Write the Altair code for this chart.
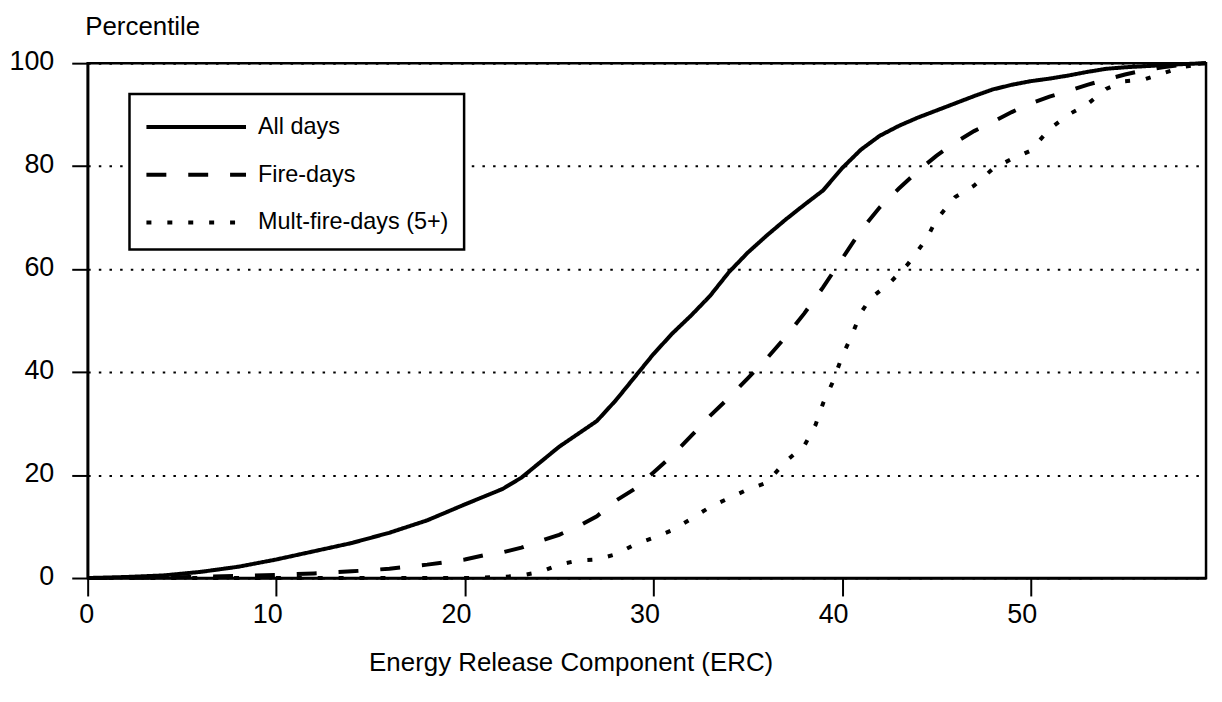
import altair as alt
import pandas as pd

# ---- data ----
series_names = ["All days", "Fire-days", "Mult-fire-days (5+)"]

erc_all = [0, 2, 4, 6, 8, 10, 12, 14, 16, 18, 20, 22, 23, 24, 25, 26, 27, 28, 29, 30,
           31, 32, 33, 34, 35, 36, 37, 38, 39, 40, 41, 42, 43, 44, 45, 46, 47, 48, 49,
           50, 51, 52, 53, 54, 55, 56, 57, 58, 59.3]
pct_all = [0, 0.2, 0.5, 1.2, 2.2, 3.6, 5.2, 6.8, 8.8, 11.2, 14.3, 17.3, 19.5, 22.5, 25.5,
           28, 30.5, 34.5, 39, 43.5, 47.5, 51, 54.8, 59.4, 63.2, 66.5, 69.6, 72.5, 75.3,
           79.6, 83.2, 85.9, 87.8, 89.4, 90.8, 92.2, 93.6, 94.9, 95.8, 96.5, 97, 97.6,
           98.3, 98.9, 99.2, 99.4, 99.6, 99.8, 100]

erc_fire = [0, 4, 8, 10, 12, 14, 16, 18, 20, 21, 22, 23, 24, 25, 26, 27, 28, 29, 30, 31,
            32, 33, 34, 35, 36, 37, 38, 39, 40, 41, 42, 43, 44, 45, 46, 47, 48, 49, 50,
            51, 52, 53, 54, 55, 56, 57, 58, 59.3]
pct_fire = [0, 0.1, 0.4, 0.6, 0.9, 1.3, 1.8, 2.6, 3.6, 4.4, 5, 5.9, 7.2, 8.4, 10, 12, 15,
            17.3, 20.5, 23.8, 27.6, 31.5, 35, 38.8, 42.6, 46.8, 51.4, 56.5, 62, 67.5, 72,
            75.6, 79, 82, 84.6, 86.8, 88.6, 90.5, 92.2, 93.5, 94.6, 95.8, 96.8, 97.8, 98.6,
            99.2, 99.7, 100]

erc_mult = [0, 5, 10, 15, 20, 22, 23, 24, 25, 26, 27, 28, 29, 30, 31, 32, 33, 34, 35, 36,
            37, 38, 38.6, 39, 39.5, 40, 40.5, 41, 41.5, 42.5, 43.5, 44.5, 45, 46, 47, 48,
            49, 50, 51, 52, 53, 54, 55, 56, 57, 58, 59.3]
pct_mult = [0, 0, 0, 0, 0, 0.2, 0.5, 1.2, 2.6, 3.4, 3.6, 4.6, 6.5, 7.8, 9.3, 11.5, 13.8,
            15.5, 17.2, 18.5, 22.6, 25.7, 29.8, 34, 38, 43, 47, 51.5, 54.3, 57.2, 61, 66,
            69.6, 74, 76.2, 79.5, 81.4, 83, 87.2, 90, 92, 95, 96.5, 96.8, 98, 99.2, 100]

x_ticks = [0, 10, 20, 30, 40, 50]
y_ticks = [0, 20, 40, 60, 80, 100]

rows = []
for name, xs, ys in zip(series_names, [erc_all, erc_fire, erc_mult],
                        [pct_all, pct_fire, pct_mult]):
    for i, (xv, yv) in enumerate(zip(xs, ys)):
        rows.append({"series": name, "erc": xv, "pct": yv, "order": i})
df = pd.DataFrame(rows)

FONT = "Liberation Sans"

chart = alt.Chart(df).mark_line(color="black", strokeWidth=4, strokeCap="butt").encode(
    x=alt.X("erc:Q",
            scale=alt.Scale(domain=[0, 59.3], nice=False, zero=False),
            axis=alt.Axis(values=x_ticks, title="Energy Release Component (ERC)",
                          grid=False, tickSize=18, labelPadding=6, labelOffset=-9,
                          titleX=485, titleY=93, titleBaseline="alphabetic",
                          titleAlign="center")),
    y=alt.Y("pct:Q",
            scale=alt.Scale(domain=[0, 100], nice=False),
            axis=alt.Axis(values=y_ticks, title="Percentile", grid=True,
                          gridDash=[2.5, 8.2], gridColor="black", gridWidth=2,
                          tickSize=16, labelPadding=18, labelOffset=-2,
                          labelFontSize=27,
                          titleAngle=0, titleX=-3, titleY=-29,
                          titleAlign="left", titleBaseline="alphabetic")),
    strokeDash=alt.StrokeDash(
        "series:N",
        scale=alt.Scale(domain=series_names, range=[[1, 0], [20, 22], [5, 16]]),
        legend=alt.Legend(
            title=None, orient="none", legendX=42, legendY=31,
            fillColor="white", strokeColor="black", padding=15,
            symbolType="M-3.125,0H3.125", symbolSize=1024, symbolStrokeWidth=4,
            symbolStrokeColor="black", symbolOffset=34, labelOffset=44,
            labelFontSize=23.5, labelFont=FONT, labelColor="black", rowPadding=18,
            labelLimit=500,
            labelExpr="datum.label + '\u00a0\u00a0\u00a0\u00a0\u00a0'")),
    order="order:Q",
).properties(
    width=1123, height=517,
    autosize=alt.AutoSizeParams(type="none"),
    padding={"left": 80, "top": 54, "right": 8, "bottom": 100},
).configure_view(
    stroke="black", strokeWidth=2.5
).configure_axis(
    domainColor="black", domainWidth=2.5, tickColor="black", tickWidth=2,
    labelColor="black", titleColor="black", labelFont=FONT, titleFont=FONT,
    labelFontSize=27, titleFontSize=26, titleFontWeight="normal"
).configure_legend(
    strokeWidth=2.5
)

chart.save("out.html", embed_options={"renderer": "svg", "actions": False})
